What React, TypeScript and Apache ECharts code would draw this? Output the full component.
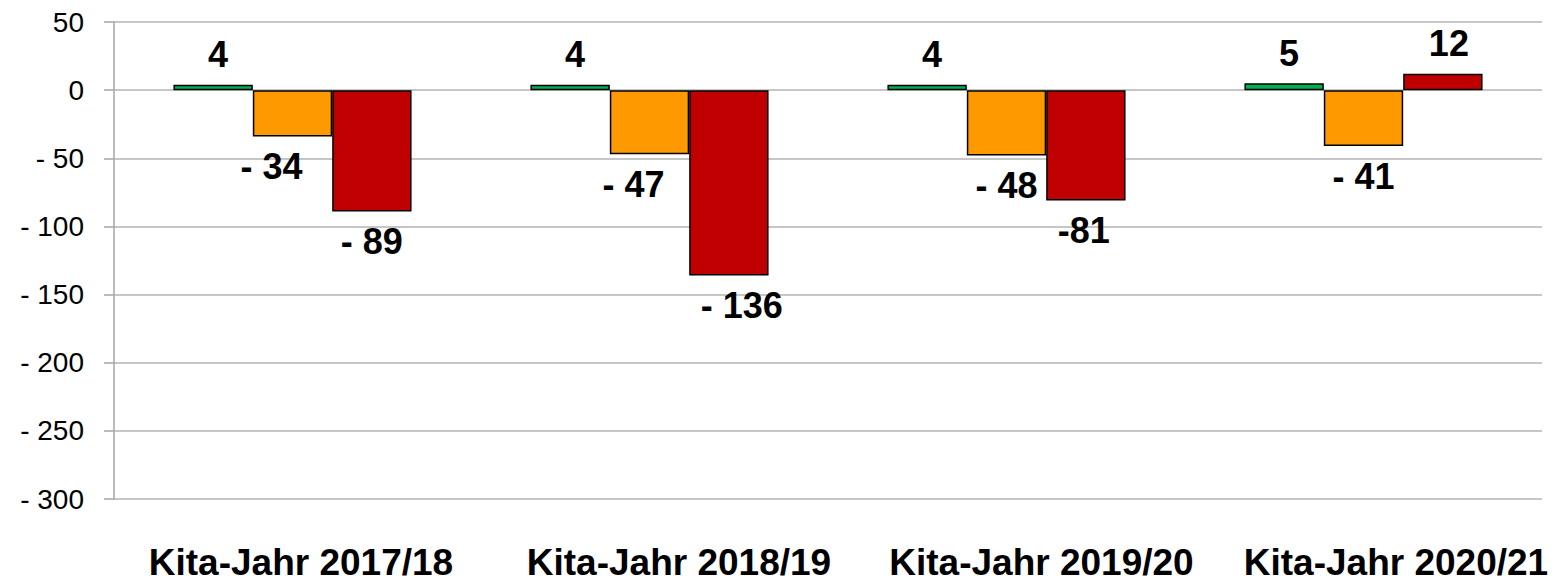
import React, { useEffect, useRef } from "react";
import * as echarts from "echarts";

const categories = ["Kita-Jahr 2017/18", "Kita-Jahr 2018/19", "Kita-Jahr 2019/20", "Kita-Jahr 2020/21"];
const greenValues = [4, 4, 4, 5];
const orangeValues = [-34, -47, -48, -41];
const redValues = [-89, -136, -81, 12];
const yTicks = { min: -300, max: 50, interval: 50 };

// label text quirks seen in the picture (index of values written without space after the minus)
const redNoSpace = [2];

const FONT = "'Liberation Sans', Arial, sans-serif";

function fmtAxis(v: number): string {
  return v < 0 ? "- " + Math.abs(v) : String(v);
}

function buildSeries(
  name: string,
  values: number[],
  color: string,
  offsets: number[],
  noSpace: number[] = []
) {
  return {
    name,
    type: "bar",
    data: values.map((v, i) => ({
      value: v,
      label: {
        position: v < 0 ? "bottom" : "top",
        offset: [offsets[i], 0],
      },
    })),
    itemStyle: { color, borderColor: "#000", borderWidth: 1.5 },
    label: {
      show: true,
      distance: 12,
      fontFamily: FONT,
      fontWeight: "bold",
      fontSize: 36,
      color: "#000",
      formatter: (p: any) => {
        const v = p.value as number;
        if (v < 0) return (noSpace.includes(p.dataIndex) ? "-" : "- ") + Math.abs(v);
        return String(v);
      },
    },
    barGap: "0%",
    barCategoryGap: "33.3%",
  };
}

export default function App() {
  const ref = useRef<HTMLDivElement>(null);
  useEffect(() => {
    if (!ref.current) return;
    const chart = echarts.init(ref.current, undefined, { renderer: "svg" });
    // left padding that pushes each category label to the right, as in the picture
    const catLabelPad = [17, 59, 70, 65];
    const rich: Record<string, any> = {};
    catLabelPad.forEach((p, i) => {
      rich["c" + i] = {
        fontFamily: FONT,
        fontWeight: "bold",
        fontSize: 37,
        lineHeight: 32,
        color: "#000",
        padding: [0, 0, 0, p],
      };
    });
    chart.setOption({
      animation: false,
      backgroundColor: "#fff",
      grid: { left: 114, right: 13, top: 22, bottom: 84, containLabel: false },
      xAxis: {
        type: "category",
        data: categories,
        position: "bottom",
        axisLine: { show: false, onZero: false },
        axisTick: { show: false },
        axisLabel: {
          margin: 47,
          fontFamily: FONT,
          fontWeight: "bold",
          fontSize: 37,
          lineHeight: 32,
          color: "#000",
          interval: 0,
          formatter: (value: string, index: number) => `{c${index}|${value}}`,
          rich,
        },
      },
      yAxis: {
        type: "value",
        min: yTicks.min,
        max: yTicks.max,
        interval: yTicks.interval,
        axisLine: { show: true, lineStyle: { color: "#a6a6a6", width: 1.5 } },
        axisTick: { show: true, length: 10, lineStyle: { color: "#a6a6a6", width: 1.5 } },
        splitLine: { show: true, lineStyle: { color: "#b3b3b3", width: 1.5 } },
        axisLabel: {
          margin: 30,
          fontFamily: FONT,
          fontSize: 28,
          color: "#000",
          formatter: fmtAxis,
        },
      },
      series: [
        buildSeries("Grün", greenValues, "#00b050", [5, 5, 5, 5]),
        buildSeries("Orange", orangeValues, "#ff9900", [-21, -16, 0, 0]),
        buildSeries("Rot", redValues, "#c00000", [0, 13, -2, 6], redNoSpace),
      ],
    });
    return () => chart.dispose();
  }, []);
  return (
    <div
      ref={ref}
      style={{ position: "absolute", left: 0, top: 0, width: 1555, height: 583 }}
    />
  );
}
